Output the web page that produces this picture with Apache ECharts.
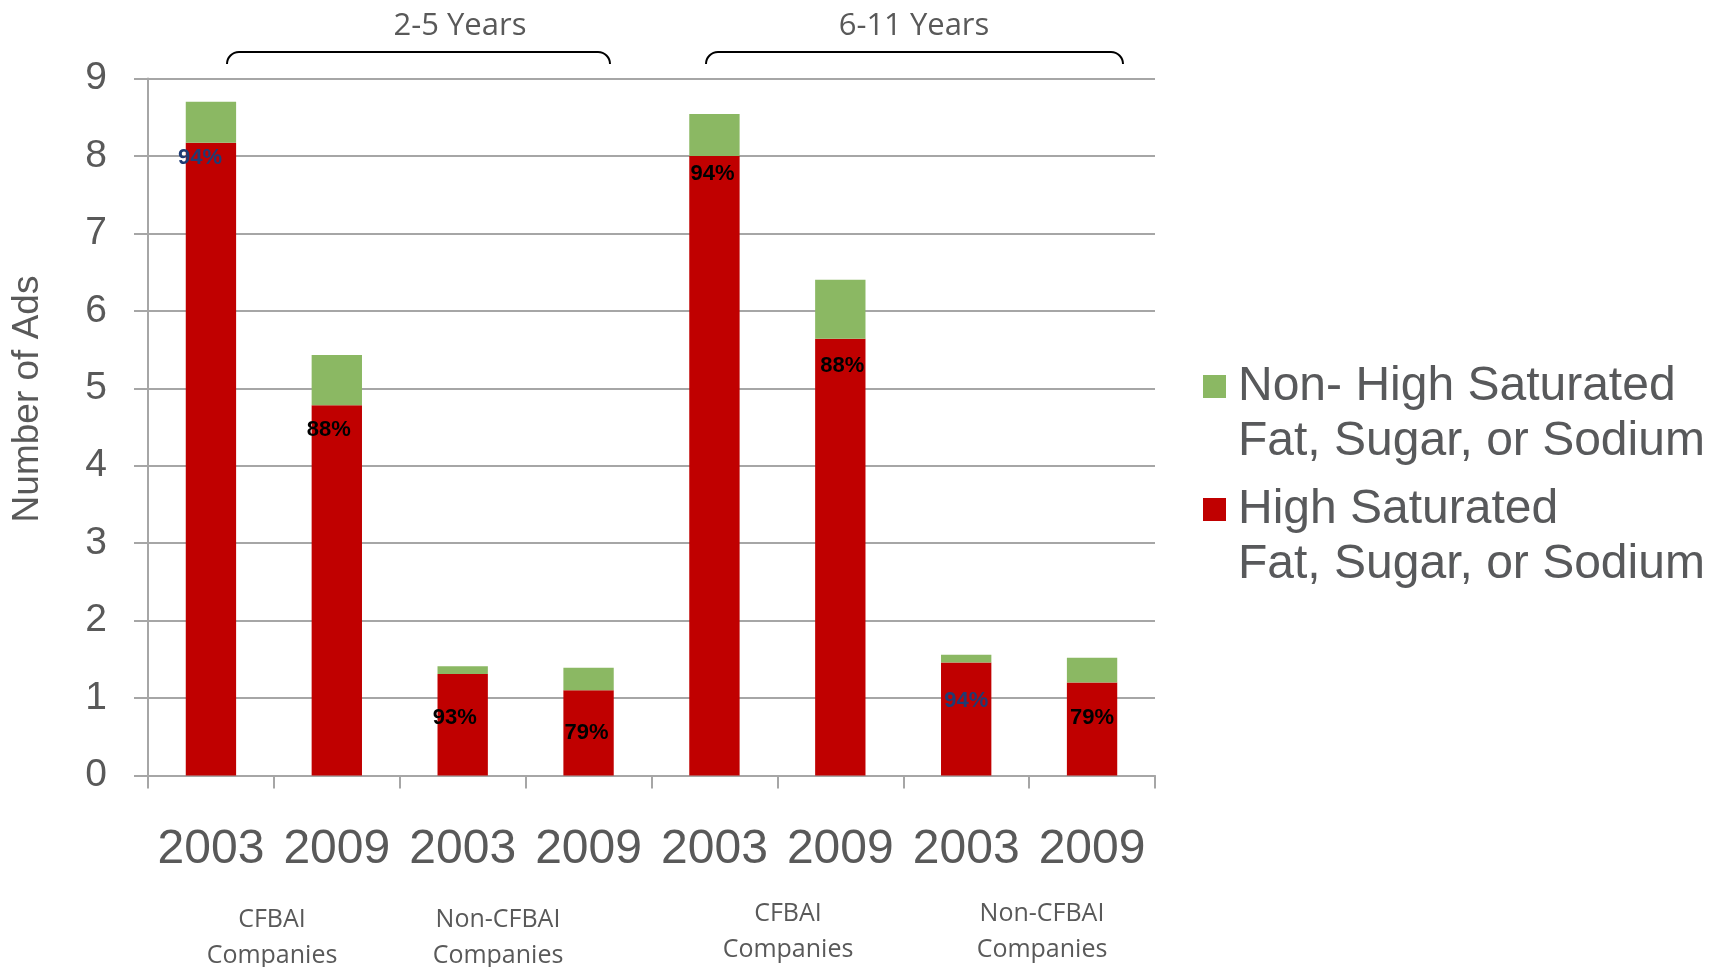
<!DOCTYPE html>
<html>
<head>
<meta charset="utf-8">
<script src="https://cdn.jsdelivr.net/npm/echarts@6/dist/echarts.min.js"></script>
<style>
  html, body { margin: 0; padding: 0; background: #ffffff; }
  #chart { width: 1717px; height: 967px; }
</style>
</head>
<body>
<div id="chart"></div>
<script>
// Year of each bar, left to right
const years = ['2003', '2009', '2003', '2009', '2003', '2009', '2003', '2009'];

// Number of ads per bar, split by nutrient profile
const highValues    = [8.17, 4.78, 1.31, 1.10, 8.00, 5.64, 1.46, 1.20];
const nonHighValues = [0.53, 0.65, 0.10, 0.29, 0.54, 0.76, 0.10, 0.32];

const seriesNames = [
  'Non- High Saturated\nFat, Sugar, or Sodium',
  'High Saturated\nFat, Sugar, or Sodium'
];

const ageGroups = ['2-5 Years', '6-11 Years'];
const companyGroups = ['CFBAI\nCompanies', 'Non-CFBAI\nCompanies', 'CFBAI\nCompanies', 'Non-CFBAI\nCompanies'];

// Presentation of the share labels inside the red bars
const labelNudge  = [[-11, 4], [-8, 14], [-8, 33], [-2, 32], [-2, 7], [2, 16], [0, 28], [0, 24]];
const labelColors = ['#1F3B73', '#000000', '#000000', '#000000', '#000000', '#000000', '#1F3B73', '#000000'];

const GREEN = '#8BB863';
const RED = '#C00000';
const GREY_TEXT = '#595959';
const GRID_GREY = '#A6A6A6';

function shareLabel(i) {
  return Math.round(highValues[i] / (highValues[i] + nonHighValues[i]) * 100) + '%';
}

// A curly bracket spanning x0..x1 with its bar at y and ends dropping by h
function bracket(x0, x1, y, h) {
  const r = h;
  return [
    { type: 'arc', shape: { cx: x0 + r, cy: y + r, r: r, startAngle: Math.PI, endAngle: Math.PI * 1.5 },
      style: { stroke: '#000', lineWidth: 2, fill: null } },
    { type: 'line', shape: { x1: x0 + r, y1: y, x2: x1 - r, y2: y },
      style: { stroke: '#000', lineWidth: 2 } },
    { type: 'arc', shape: { cx: x1 - r, cy: y + r, r: r, startAngle: Math.PI * 1.5, endAngle: Math.PI * 2 },
      style: { stroke: '#000', lineWidth: 2, fill: null } }
  ];
}

const chart = echarts.init(document.getElementById('chart'), null, { renderer: 'canvas' });

const groupLabelPos = [[272, 938], [498, 938], [788, 932], [1042, 932]];
const agePos = [[460, 26], [914, 26]];

const graphics = [];
ageGroups.forEach((t, i) => {
  graphics.push({
    type: 'text', x: agePos[i][0], y: agePos[i][1],
    style: { text: t, font: '31px "Open Sans"', fill: GREY_TEXT, textAlign: 'center', textVerticalAlign: 'middle' }
  });
});
graphics.push(...bracket(227, 610, 52, 12));
graphics.push(...bracket(706, 1123, 52, 12));
companyGroups.forEach((t, i) => {
  graphics.push({
    type: 'text', x: groupLabelPos[i][0], y: groupLabelPos[i][1],
    style: { text: t, font: '25px "Open Sans"', lineHeight: 36, fill: GREY_TEXT, textAlign: 'center', textVerticalAlign: 'middle' }
  });
});

const option = {
  backgroundColor: '#ffffff',
  animation: false,
  grid: { left: 148, right: 562, top: 78.5, bottom: 191.5, containLabel: false, outerBoundsMode: 'none' },
  legend: {
    orient: 'vertical',
    left: 1198,
    top: 299,
    itemWidth: 23,
    itemHeight: 23,
    itemGap: -42,
    icon: 'rect',
    selectedMode: true,
    data: [seriesNames[0], seriesNames[1]],
    formatter: name => '\n' + name,
    textStyle: {
      fontFamily: 'Liberation Sans, Arial, sans-serif',
      fontSize: 48,
      lineHeight: 55,
      color: '#58595B',
      padding: [0, 0, 0, 7]
    }
  },
  xAxis: {
    type: 'category',
    data: years,
    axisLine: { show: true, lineStyle: { color: GRID_GREY, width: 2 } },
    axisTick: { show: true, length: 13, inside: false, lineStyle: { color: GRID_GREY, width: 2 } },
    axisLabel: {
      interval: 0,
      margin: 50,
      fontFamily: 'Liberation Sans, Arial, sans-serif',
      fontSize: 48,
      color: GREY_TEXT
    },
    splitLine: { show: false }
  },
  yAxis: {
    type: 'value',
    min: 0,
    max: 9,
    interval: 1,
    name: 'Number of Ads',
    nameLocation: 'middle',
    nameGap: 102,
    nameTextStyle: {
      fontFamily: 'Liberation Sans, Arial, sans-serif',
      fontSize: 37,
      color: GREY_TEXT,
      padding: [0, 0, 0, 56]
    },
    axisLine: { show: true, lineStyle: { color: GRID_GREY, width: 2 } },
    axisTick: { show: true, length: 14, inside: false, lineStyle: { color: GRID_GREY, width: 2 } },
    axisLabel: {
      margin: 41,
      fontFamily: 'Liberation Sans, Arial, sans-serif',
      fontSize: 39,
      color: GREY_TEXT
    },
    splitLine: { show: true, lineStyle: { color: GRID_GREY, width: 2 } }
  },
  series: [
    {
      name: seriesNames[1],
      type: 'bar',
      stack: 'ads',
      barWidth: '40%',
      itemStyle: { color: RED },
      label: {
        show: true,
        position: 'insideTop',
        distance: 0,
        fontFamily: 'Liberation Sans, Arial, sans-serif',
        fontSize: 22,
        fontWeight: 'bold',
        formatter: p => shareLabel(p.dataIndex)
      },
      data: highValues.map((v, i) => ({
        value: v,
        label: { offset: labelNudge[i], color: labelColors[i] }
      }))
    },
    {
      name: seriesNames[0],
      type: 'bar',
      stack: 'ads',
      barWidth: '40%',
      itemStyle: { color: GREEN },
      data: nonHighValues
    }
  ],
  graphic: graphics
};

chart.setOption(option);
</script>
</body>
</html>
